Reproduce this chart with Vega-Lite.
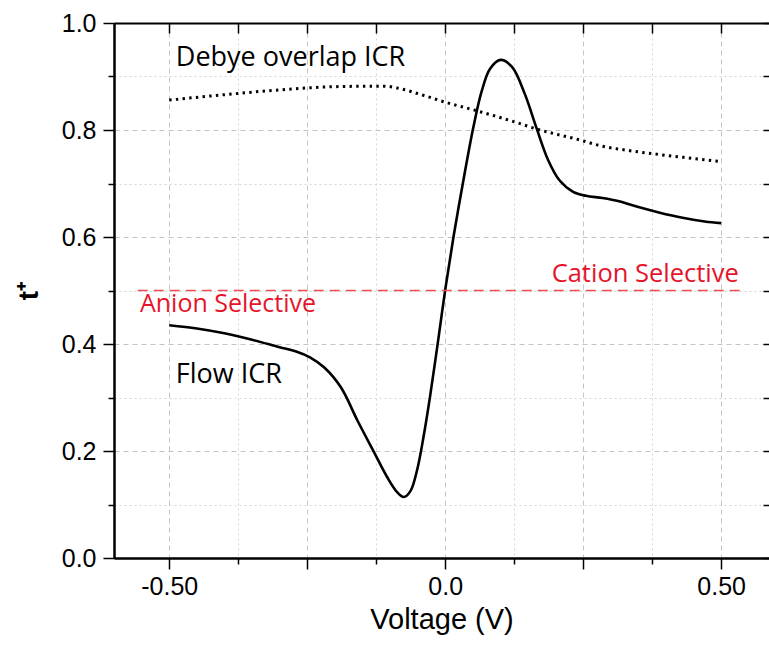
{
  "$schema": "https://vega.github.io/schema/vega-lite/v6.json",
  "width": 655,
  "height": 535,
  "autosize": {"type": "none"},
  "padding": {"left": 114, "top": 23, "right": 0, "bottom": 87},
  "background": "white",
  "config": {
    "view": {"stroke": null},
    "axis": {"domainColor": "black", "domainWidth": 2, "tickColor": "black", "tickWidth": 1.5,
             "labelFont": "Liberation Sans", "titleFont": "Liberation Sans", "labelColor": "black", "titleColor": "black"}
  },
  "datasets": {
    "flow": [
      {"v": -0.5, "t": 0.435}, {"v": -0.45, "t": 0.429}, {"v": -0.4, "t": 0.42}, {"v": -0.35, "t": 0.408},
      {"v": -0.3, "t": 0.394}, {"v": -0.27, "t": 0.386}, {"v": -0.245, "t": 0.375}, {"v": -0.219, "t": 0.356},
      {"v": -0.189, "t": 0.319}, {"v": -0.159, "t": 0.257}, {"v": -0.129, "t": 0.198}, {"v": -0.105, "t": 0.151},
      {"v": -0.087, "t": 0.123}, {"v": -0.075, "t": 0.114}, {"v": -0.063, "t": 0.125}, {"v": -0.051, "t": 0.164},
      {"v": -0.039, "t": 0.228}, {"v": -0.027, "t": 0.305}, {"v": -0.013, "t": 0.405}, {"v": 0.0, "t": 0.501},
      {"v": 0.015, "t": 0.6}, {"v": 0.033, "t": 0.706}, {"v": 0.051, "t": 0.805}, {"v": 0.066, "t": 0.872},
      {"v": 0.081, "t": 0.914}, {"v": 0.1, "t": 0.931}, {"v": 0.121, "t": 0.918}, {"v": 0.144, "t": 0.868},
      {"v": 0.165, "t": 0.805}, {"v": 0.186, "t": 0.745}, {"v": 0.207, "t": 0.706}, {"v": 0.231, "t": 0.685},
      {"v": 0.255, "t": 0.677}, {"v": 0.285, "t": 0.673}, {"v": 0.315, "t": 0.667}, {"v": 0.35, "t": 0.656},
      {"v": 0.387, "t": 0.646}, {"v": 0.43, "t": 0.636}, {"v": 0.47, "t": 0.629}, {"v": 0.5, "t": 0.626}
    ],
    "debye": [
      {"v": -0.5, "t": 0.856}, {"v": -0.4, "t": 0.866}, {"v": -0.3, "t": 0.875}, {"v": -0.2, "t": 0.881},
      {"v": -0.11, "t": 0.882}, {"v": -0.081, "t": 0.877}, {"v": -0.04, "t": 0.865}, {"v": 0.0, "t": 0.852},
      {"v": 0.057, "t": 0.836}, {"v": 0.126, "t": 0.815}, {"v": 0.165, "t": 0.802}, {"v": 0.249, "t": 0.78},
      {"v": 0.279, "t": 0.771}, {"v": 0.33, "t": 0.762}, {"v": 0.381, "t": 0.755}, {"v": 0.44, "t": 0.748},
      {"v": 0.5, "t": 0.741}
    ],
    "ref": [{"v1": -0.557, "v2": 0.538, "t": 0.5}],
    "blackText": [
      {"v": -0.488, "t": 0.919, "label": "Debye overlap ICR"},
      {"v": -0.488, "t": 0.328, "label": "Flow ICR"}
    ],
    "redTextL": [{"v": -0.553, "t": 0.459, "label": "Anion Selective"}],
    "redTextR": [{"v": 0.532, "t": 0.515, "label": "Cation Selective"}]
  },
  "layer": [
    {
      "data": {"name": "flow"},
      "mark": {"type": "line", "color": "black", "strokeWidth": 2.6, "interpolate": "catmull-rom"},
      "encoding": {
        "x": {"field": "v", "type": "quantitative", "scale": {"domain": [-0.6, 0.5866], "nice": false, "zero": false},
              "axis": {"orient": "bottom", "values": [-0.5, -0.25, 0, 0.25, 0.5],
                       "labelExpr": "datum.value == 0 ? '0.0' : (datum.value == -0.5 ? '-0.50' : (datum.value == 0.5 ? '0.50' : ''))",
                       "grid": true, "gridColor": "#c4c4c4", "gridDash": [5, 4], "gridWidth": 1,
                       "tickSize": 11, "labelFontSize": 25, "labelPadding": 5, "labelFlush": false,
                       "title": "Voltage (V)", "titleFontSize": 29, "titleFontWeight": "normal", "titlePadding": 6}},
        "y": {"field": "t", "type": "quantitative", "scale": {"domain": [0, 1], "nice": false},
              "axis": {"orient": "left", "values": [0, 0.2, 0.4, 0.6, 0.8, 1.0], "format": ".1f", "tickSize": 11, "labelFontSize": 25, "labelPadding": 7,
                       "labelFlush": false,
                       "grid": true, "gridColor": "#c4c4c4", "gridDash": [5, 4], "gridWidth": 1,
                       "title": "t⁺", "titleFontSize": 28, "titleFontWeight": "bold", "titlePadding": 18}}
      }
    },
    {
      "data": {"name": "debye"},
      "mark": {"type": "line", "color": "black", "strokeWidth": 3, "strokeDash": [2.4, 4.3], "interpolate": "monotone"},
      "encoding": {
        "x": {"field": "v", "type": "quantitative",
              "axis": {"orient": "bottom", "values": [-0.375, -0.125, 0.125, 0.375], "labels": false, "tickSize": 6, "title": null,
                       "grid": true, "gridColor": "#d6d6d6", "gridDash": [2, 3], "gridWidth": 1}},
        "y": {"field": "t", "type": "quantitative",
              "axis": {"orient": "left", "values": [0.1, 0.3, 0.5, 0.7, 0.9], "labels": false, "tickSize": 6, "title": null,
                       "grid": true, "gridColor": "#d6d6d6", "gridDash": [2, 3], "gridWidth": 1}}
      }
    },
    {
      "data": {"name": "ref"},
      "mark": {"type": "rule", "color": "#f24a55", "strokeWidth": 1.6, "strokeDash": [10, 6]},
      "encoding": {
        "x": {"field": "v1", "type": "quantitative",
              "axis": {"orient": "top", "values": [-0.5, -0.375, -0.25, -0.125, 0, 0.125, 0.25, 0.375, 0.5], "labels": false, "tickSize": -10, "title": null, "grid": false}},
        "x2": {"field": "v2"},
        "y": {"field": "t", "type": "quantitative",
              "axis": {"orient": "right", "values": [0, 0.1, 0.2, 0.3, 0.4, 0.5, 0.6, 0.7, 0.8, 0.9, 1.0], "labels": false, "tickSize": -6, "domain": false, "title": null, "grid": false}}
      }
    },
    {
      "data": {"name": "blackText"},
      "mark": {"type": "text", "align": "left", "baseline": "alphabetic", "font": "Open Sans", "fontSize": 27, "color": "black"},
      "encoding": {
        "x": {"field": "v", "type": "quantitative", "axis": null},
        "y": {"field": "t", "type": "quantitative", "axis": null},
        "text": {"field": "label"}
      }
    },
    {
      "data": {"name": "redTextL"},
      "mark": {"type": "text", "align": "left", "baseline": "alphabetic", "font": "Open Sans", "fontSize": 25, "color": "#e5142b"},
      "encoding": {
        "x": {"field": "v", "type": "quantitative", "axis": null},
        "y": {"field": "t", "type": "quantitative", "axis": null},
        "text": {"field": "label"}
      }
    },
    {
      "data": {"name": "redTextR"},
      "mark": {"type": "text", "align": "right", "baseline": "alphabetic", "font": "Open Sans", "fontSize": 25.5, "color": "#e5142b"},
      "encoding": {
        "x": {"field": "v", "type": "quantitative", "axis": null},
        "y": {"field": "t", "type": "quantitative", "axis": null},
        "text": {"field": "label"}
      }
    }
  ],
  "resolve": {"axis": {"x": "independent", "y": "independent"}}
}
